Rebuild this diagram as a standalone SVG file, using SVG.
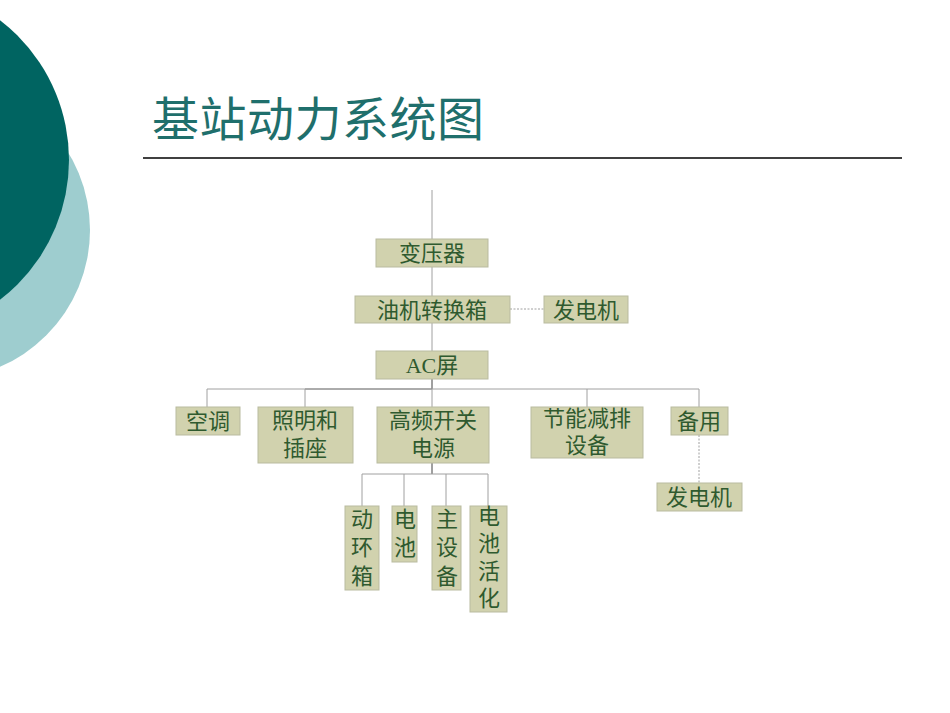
<svg xmlns="http://www.w3.org/2000/svg" width="950" height="713" viewBox="0 0 950 713">
<style>
.n rect{fill:#d1d2ae;stroke:#b9bba0;stroke-width:1}
.n text{font-family:"Liberation Serif","Noto Sans CJK SC",serif;font-size:22px;fill:#2f5a2f;text-anchor:middle}
.c line{stroke:#a0a0a0;stroke-width:1}
.c .d{stroke-dasharray:2,1.5}
.c .k{stroke:#404040}
</style>
<rect width="950" height="713" fill="#ffffff"/>
<g id="bg">
<circle cx="-59" cy="230" r="149" fill="#9ecdcf"/>
<circle cx="-107" cy="160" r="176" fill="#006461"/>
</g>
<g id="title">
<text x="152" y="136" font-family="'Noto Sans CJK SC',sans-serif" font-size="47" letter-spacing="0.5" fill="#1f6f6c">基站动力系统图</text>
<line x1="143" y1="158" x2="902" y2="158" stroke="#000" stroke-width="1.5"/>
</g>
<g class="c" id="connectors">
<line x1="432" y1="190" x2="432" y2="239"/>
<line x1="432" y1="267" x2="432" y2="296"/>
<line x1="432" y1="323" x2="432" y2="351"/>
<line class="d" x1="510" y1="309" x2="544" y2="309"/>
<line class="k" x1="432" y1="379" x2="432" y2="389"/>
<line x1="207" y1="389" x2="699" y2="389"/>
<line class="k" x1="305" y1="389" x2="432" y2="389" style="stroke:#888"/>
<line x1="207" y1="389" x2="207" y2="407"/>
<line x1="305" y1="389" x2="305" y2="407"/>
<line x1="432" y1="389" x2="432" y2="407"/>
<line x1="587" y1="389" x2="587" y2="407"/>
<line x1="699" y1="389" x2="699" y2="407"/>
<line class="d" x1="699" y1="435" x2="699" y2="483"/>
<line class="k" x1="432" y1="463" x2="432" y2="474"/>
<line x1="362" y1="474" x2="488" y2="474"/>
<line x1="362" y1="474" x2="362" y2="506"/>
<line x1="404" y1="474" x2="404" y2="506"/>
<line x1="446" y1="474" x2="446" y2="506"/>
<line x1="488" y1="474" x2="488" y2="506"/>
</g>
<g class="n" id="n_transformer"><rect x="376" y="239" width="112" height="28"/><text x="432" y="261">变压器</text></g>
<g class="n" id="n_ats"><rect x="355" y="296" width="155" height="27"/><text x="432" y="318">油机转换箱</text></g>
<g class="n" id="n_gen1"><rect x="544" y="296" width="84" height="27"/><text x="586" y="318">发电机</text></g>
<g class="n" id="n_ac"><rect x="376" y="351" width="112" height="28"/><text x="432" y="373">AC屏</text></g>
<g class="n" id="n_aircon"><rect x="176" y="407" width="64" height="28"/><text x="208" y="429">空调</text></g>
<g class="n" id="n_light"><rect x="258" y="407" width="95" height="56"/><text x="305" y="428">照明和</text><text x="305" y="456">插座</text></g>
<g class="n" id="n_hf"><rect x="377" y="407" width="112" height="56"/><text x="433" y="428">高频开关</text><text x="433" y="456">电源</text></g>
<g class="n" id="n_eco"><rect x="531" y="407" width="112" height="51"/><text x="587" y="426">节能减排</text><text x="587" y="453">设备</text></g>
<g class="n" id="n_spare"><rect x="671" y="407" width="57" height="28"/><text x="699" y="429">备用</text></g>
<g class="n" id="n_gen2"><rect x="657" y="483" width="85" height="28"/><text x="699" y="505">发电机</text></g>
<g class="n" id="n_env"><rect x="345" y="506" width="34" height="84"/><text x="362" y="527">动</text><text x="362" y="555">环</text><text x="362" y="584">箱</text></g>
<g class="n" id="n_bat"><rect x="392" y="506" width="25" height="56"/><text x="405" y="527">电</text><text x="405" y="555">池</text></g>
<g class="n" id="n_main"><rect x="432" y="506" width="29" height="84"/><text x="447" y="527">主</text><text x="447" y="555">设</text><text x="447" y="584">备</text></g>
<g class="n" id="n_batact"><rect x="470" y="506" width="37" height="106"/><text x="489" y="524">电</text><text x="489" y="551">池</text><text x="489" y="579">活</text><text x="489" y="606">化</text></g>
</svg>
